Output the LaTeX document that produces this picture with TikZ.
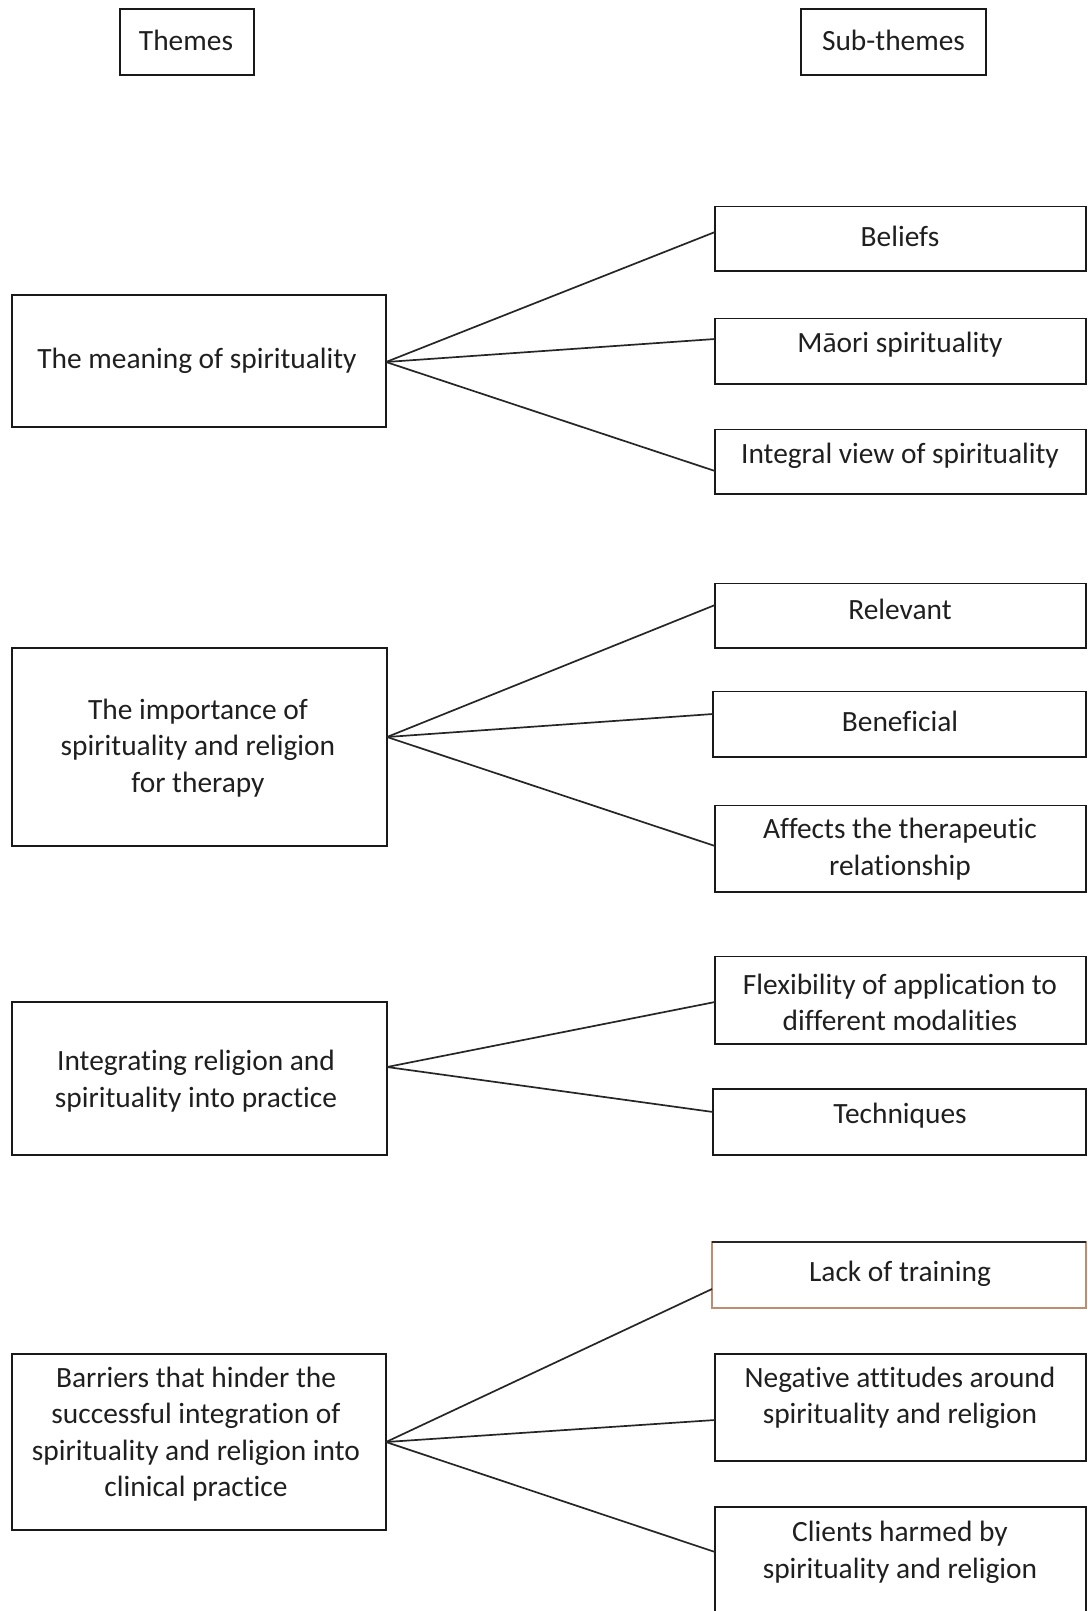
\documentclass[tikz,border=0pt]{standalone}
\usepackage{fontspec}
\setmainfont[Ligatures=NoCommon]{Carlito}
\begin{document}
\begin{tikzpicture}[x=1pt,y=-1pt,
  box/.style={draw=black!90,line width=1.8pt,rectangle,inner sep=0pt,outer sep=0pt},
  txt/.style={inner sep=0pt,align=center,font=\fontsize{29.4}{36.5}\selectfont,text=black!88},
  conn/.style={draw=black!85,line width=1.7pt}]
\useasboundingbox (0,0) rectangle (1087,1611);
\clip (0,0) rectangle (1087,1611);
% header boxes
\node[box,minimum width=134pt,minimum height=66pt] (themes) at (187,42) {};
\node[txt] (themes-t) at (186,40) {Themes};
\node[box,minimum width=185pt,minimum height=66pt] (subthemes) at (893.5,42) {};
\node[txt] (subthemes-t) at (893.5,40) {Sub-themes};
% theme 1
\node[box,minimum width=374pt,minimum height=132pt] (meaning) at (199,361) {};
\node[txt] (meaning-t) at (197,360.6) {The meaning of spirituality};
\node[box,minimum width=371pt,minimum height=64.5pt] (beliefs) at (900.5,238.75) {};
\node[txt] (beliefs-t) at (900,236) {Beliefs};
\node[box,minimum width=371pt,minimum height=65.5pt] (maori) at (900.5,351.25) {};
\node[txt] (maori-t) at (900,345) {Māori spirituality};
\node[box,minimum width=371pt,minimum height=64.5pt] (integral) at (900.5,461.75) {};
\node[txt] (integral-t) at (900,456) {Integral view of spirituality};
% theme 2
\node[box,minimum width=375pt,minimum height=198pt] (importance) at (199.5,747) {};
\node[txt] (importance-t) at (198,748) {The importance of\\spirituality and religion\\for therapy};
\node[box,minimum width=371pt,minimum height=64.5pt] (relevant) at (900.5,615.75) {};
\node[txt] (relevant-t) at (900,609.3) {Relevant};
\node[box,minimum width=373pt,minimum height=65.5pt] (beneficial) at (899.5,724.25) {};
\node[txt] (beneficial-t) at (900,721.2) {Beneficial};
\node[box,minimum width=371pt,minimum height=86.5pt] (affects) at (900.5,848.75) {};
\node[txt] (affects-t) at (900,849) {Affects the therapeutic\\relationship};
% theme 3
\node[box,minimum width=375pt,minimum height=153pt] (integrating) at (199.5,1078.5) {};
\node[txt] (integrating-t) at (196,1081) {Integrating religion and\\spirituality into practice};
\node[box,minimum width=371pt,minimum height=87.5pt] (flex) at (900.5,1000.25) {};
\node[txt] (flex-t) at (900,1002.2) {Flexibility of application to\\different modalities};
\node[box,minimum width=373pt,minimum height=66pt] (tech) at (899.5,1122) {};
\node[txt] (tech-t) at (900,1115.8) {Techniques};
% theme 4
\node[box,minimum width=374pt,minimum height=176pt] (barriers) at (199,1442) {};
\node[txt] (barriers-t) at (196,1434.3) {Barriers that hinder the\\successful integration of\\spirituality and religion into\\clinical practice};
\node[box,draw={rgb,255:red,190;green,140;blue,110},minimum width=374pt,minimum height=66pt] (lack) at (899,1275) {};
\draw[line width=1.8pt,black!85] (lack.north west) -- (lack.north east);
\node[txt] (lack-t) at (900,1274) {Lack of training};
\node[box,minimum width=371pt,minimum height=107pt] (negative) at (900.5,1407.5) {};
\node[txt] (negative-t) at (900,1397.8) {Negative attitudes around\\spirituality and religion};
\node[box,minimum width=371pt,minimum height=143pt] (clients) at (900.5,1578.5) {};
\node[txt] (clients-t) at (900,1552.4) {Clients harmed by\\spirituality and religion};
% connectors
\draw[conn] ([yshift=-1pt]meaning.east) -- ([yshift=6.75pt]beliefs.west);
\draw[conn] ([yshift=-1pt]meaning.east) -- ([yshift=12.25pt]maori.west);
\draw[conn] ([yshift=-1pt]meaning.east) -- ([yshift=-9.25pt]integral.west);
\draw[conn] ([yshift=10pt]importance.east) -- ([yshift=10.75pt]relevant.west);
\draw[conn] ([yshift=10pt]importance.east) -- ([yshift=10.25pt]beneficial.west);
\draw[conn] ([yshift=10pt]importance.east) -- ([yshift=2.75pt]affects.west);
\draw[conn] ([yshift=11.5pt]integrating.east) -- ([yshift=-1.75pt]flex.west);
\draw[conn] ([yshift=11.5pt]integrating.east) -- ([yshift=10pt]tech.west);
\draw[conn] (barriers.east) -- ([yshift=-14pt]lack.west);
\draw[conn] (barriers.east) -- ([yshift=-12.5pt]negative.west);
\draw[conn] (barriers.east) -- ([yshift=-45pt]clients.north west);
\end{tikzpicture}
\end{document}
